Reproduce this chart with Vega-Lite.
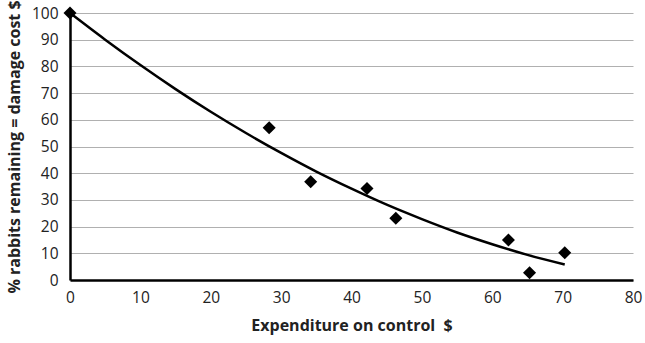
{
  "$schema": "https://vega.github.io/schema/vega-lite/v6.json",
  "width": 563,
  "height": 267,
  "autosize": {"type": "none"},
  "padding": {"left": 70, "top": 13, "right": 12, "bottom": 63},
  "background": "white",
  "config": {
    "view": {"stroke": null},
    "font": "Open Sans",
    "axis": {
      "labelFont": "Open Sans", "titleFont": "Open Sans",
      "labelFontSize": 15.5, "labelColor": "#222", "labelOverlap": false, "labelFlush": false,
      "titleFontSize": 16, "titleFontWeight": "bold", "titleColor": "#222",
      "ticks": false, "domainColor": "black", "domainWidth": 2.5
    }
  },
  "datasets": {
    "points": [
      {"x": 0, "y": 100},
      {"x": 28.3, "y": 57},
      {"x": 34.2, "y": 36.8},
      {"x": 42.2, "y": 34.3},
      {"x": 46.3, "y": 23.1},
      {"x": 62.3, "y": 15},
      {"x": 65.3, "y": 2.7},
      {"x": 70.3, "y": 10.2}
    ],
    "curve": [
      {"x": 0, "y": 100},
      {"x": 5, "y": 90.0},
      {"x": 10, "y": 80.5},
      {"x": 15, "y": 71.5},
      {"x": 20, "y": 63.0},
      {"x": 25, "y": 55.05},
      {"x": 30, "y": 47.6},
      {"x": 35, "y": 40.6},
      {"x": 40, "y": 34.2},
      {"x": 45, "y": 28.2},
      {"x": 50, "y": 22.8},
      {"x": 55, "y": 17.8},
      {"x": 60, "y": 13.4},
      {"x": 65, "y": 9.4},
      {"x": 70.3, "y": 5.8}
    ]
  },
  "encoding": {
    "x": {
      "field": "x", "type": "quantitative",
      "scale": {"domain": [0, 80], "nice": false},
      "axis": {
        "title": "Expenditure on control\u00a0 $",
        "values": [0, 10, 20, 30, 40, 50, 60, 70, 80],
        "grid": false,
        "labelPadding": 10,
        "titlePadding": 12
      }
    },
    "y": {
      "field": "y", "type": "quantitative",
      "scale": {"domain": [0, 100], "nice": false},
      "axis": {
        "title": "% rabbits remaining = damage cost $",
        "values": [0, 10, 20, 30, 40, 50, 60, 70, 80, 90, 100],
        "grid": true, "gridColor": "#b0b0b0", "gridWidth": 1,
        "labelPadding": 12,
        "titlePadding": 9
      }
    }
  },
  "layer": [
    {
      "data": {"name": "curve"},
      "mark": {"type": "line", "color": "black", "strokeWidth": 2.5, "interpolate": "monotone", "clip": false}
    },
    {
      "data": {"name": "points"},
      "mark": {"type": "point", "shape": "diamond", "filled": true, "color": "black", "opacity": 1, "size": 170, "clip": false}
    }
  ]
}
